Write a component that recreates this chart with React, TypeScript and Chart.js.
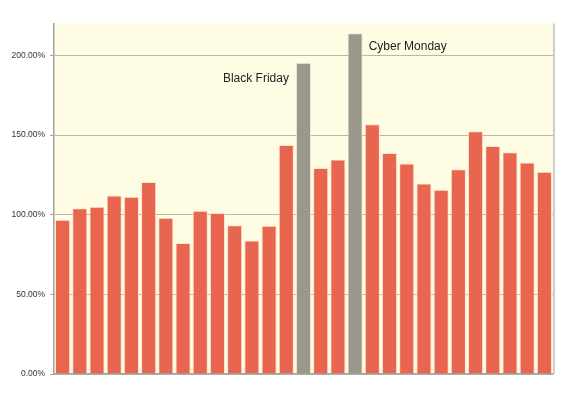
import React, { useEffect, useRef } from "react";
import { Chart, registerables } from "chart.js";

Chart.register(...registerables);

const categories = [
  "D1", "D2", "D3", "D4", "D5", "D6", "D7", "D8", "D9", "D10",
  "D11", "D12", "D13", "D14", "D15", "D16", "D17", "D18", "D19", "D20",
  "D21", "D22", "D23", "D24", "D25", "D26", "D27", "D28", "D29",
];

const values = [
  96.8, 104.1, 105.0, 112.1, 111.3, 120.5, 98.0, 82.3, 102.5, 101.0,
  93.4, 83.8, 93.0, 143.8, 195.4, 129.3, 134.6, 213.9, 156.8, 138.7,
  132.2, 119.6, 115.7, 128.5, 152.4, 143.1, 139.2, 132.7, 127.0,
];

const highlightIndexes = [14, 17];
const highlightLabels = ["Black Friday", "Cyber Monday"];

const RED = "#E8654F";
const GRAY = "#9A978D";
const PLOT_BG = "#FEFDE4";

const annotationPlugin = {
  id: "annot",
  beforeDraw(chart: any) {
    const { ctx, chartArea } = chart;
    ctx.save();
    ctx.fillStyle = PLOT_BG;
    ctx.fillRect(chartArea.left, chartArea.top, chartArea.right - chartArea.left, chartArea.bottom - chartArea.top);
    ctx.restore();
  },
  afterDatasetsDraw(chart: any) {
    const { ctx, chartArea } = chart;
    const meta = chart.getDatasetMeta(0);
    ctx.save();
    ctx.font = "12px 'Liberation Sans', Arial, sans-serif";
    ctx.fillStyle = "#222";
    ctx.textBaseline = "middle";
    const bf: any = meta.data[highlightIndexes[0]];
    if (bf) {
      ctx.textAlign = "right";
      ctx.fillText(highlightLabels[0], bf.x - bf.width / 2 - 7, bf.y + 15.5);
    }
    const cm: any = meta.data[highlightIndexes[1]];
    if (cm) {
      ctx.textAlign = "left";
      ctx.fillText(highlightLabels[1], cm.x + cm.width / 2 + 6, cm.y + 13);
    }
    ctx.strokeStyle = "#CFCFCA";
    ctx.lineWidth = 2;
    ctx.beginPath();
    ctx.moveTo(chartArea.right + 1, chartArea.top);
    ctx.lineTo(chartArea.right + 1, chartArea.bottom);
    ctx.stroke();
    ctx.restore();
  },
};

export default function App() {
  const ref = useRef<HTMLCanvasElement | null>(null);
  useEffect(() => {
    if (!ref.current) return;
    const colors = values.map((_, i) => (highlightIndexes.includes(i) ? GRAY : RED));
    const chart = new Chart(ref.current, {
      type: "bar",
      data: {
        labels: categories,
        datasets: [
          {
            data: values,
            backgroundColor: colors,
            borderColor: "rgba(255,225,205,0.9)",
            borderWidth: 1,
            barPercentage: 0.88,
            categoryPercentage: 1.0,
          },
        ],
      },
      options: {
        animation: false,
        responsive: false,
        maintainAspectRatio: false,
        layout: { padding: { left: 0, right: 27, top: 23.5, bottom: 19 } },
        plugins: {
          legend: { display: false },
          tooltip: { enabled: false },
        },
        scales: {
          x: {
            ticks: { display: false },
            grid: { display: true, color: "transparent", drawTicks: false },
            border: { display: true, color: "#A3A3A0", width: 1.5 },
            afterFit(scale: any) {
              scale.height = 0;
            },
          },
          y: {
            min: 0,
            max: 220,
            ticks: {
              stepSize: 50,
              color: "#333",
              font: { family: "'Liberation Sans', Arial, sans-serif", size: 8.5 },
              padding: 5,
              callback: (v: any) => Number(v).toFixed(2) + "%",
            },
            grid: {
              color: "#B9B7AA",
              lineWidth: 1,
              tickLength: 4,
              tickColor: "#A3A3A0",
            },
            border: { display: true, color: "#A3A3A0", width: 1.5 },
            afterBuildTicks(scale: any) {
              scale.ticks = scale.ticks.filter((t: any) => t.value <= 200);
            },
            afterFit(scale: any) {
              scale.width = 54;
            },
          },
        },
      },
      plugins: [annotationPlugin],
    });
    return () => chart.destroy();
  }, []);
  return (
    <div style={{ position: "fixed", left: 0, top: 0, width: 580, height: 393, background: "#fff" }}>
      <canvas ref={ref} width={580} height={393} style={{ width: 580, height: 393, display: "block" }} />
    </div>
  );
}
